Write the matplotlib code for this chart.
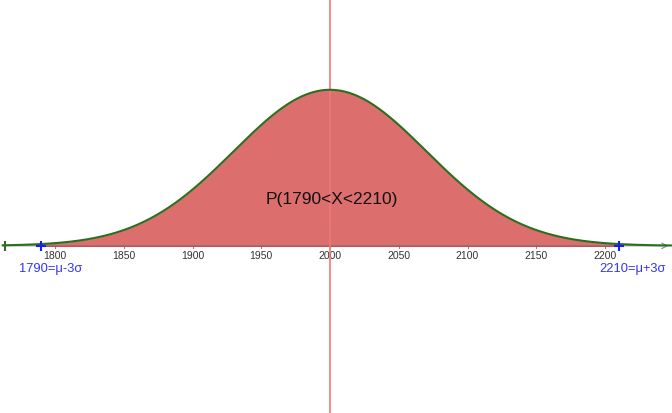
import numpy as np
import matplotlib.pyplot as plt

plt.rcParams['font.family'] = ['Liberation Sans', 'DejaVu Sans']

# distribution parameters
mu = 2000
sigma = 70
lower = 1790
upper = 2210
tick_values = [1800, 1850, 1900, 1950, 2000, 2050, 2100, 2150, 2200]
region_label = "P(1790<X<2210)"
lower_label = "1790=μ-3σ"
upper_label = "2210=μ+3σ"

def pdf(x):
    return np.exp(-0.5 * ((x - mu) / sigma) ** 2) / (sigma * np.sqrt(2 * np.pi))

peak = pdf(mu)
x_min, x_max = 1760, 2248.7

fig = plt.figure(figsize=(6.72, 4.14), dpi=100)
ax = fig.add_axes([0, 0, 1, 1])
ax.set_xlim(x_min, x_max)
ax.set_ylim(-1.072 * peak, 1.582 * peak)
ax.axis('off')

# x axis with arrow
ax.annotate('', xy=(x_max - 0.5, 0), xytext=(x_min, 0),
            arrowprops=dict(arrowstyle='->', color='#888888', lw=0.8))
tick_h = 0.012 * peak
for t in tick_values:
    ax.plot([t, t], [-tick_h, tick_h], color='#888888', lw=0.8)
    ax.text(t, -0.06 * peak, str(t), ha='center', va='center', fontsize=7.5, color='#333333')

# shaded region
xs = np.linspace(lower, upper, 500)
ax.fill_between(xs, 0, pdf(xs), color='#dc6e6e', lw=0)
ax.plot([lower, upper], [0, 0], color='#e8141e', lw=1.2)

# mean line
ax.axvline(mu, color='#f07878', lw=1.2, zorder=3)

# curve
xc = np.linspace(x_min + 2, x_max, 800)
ax.plot(xc, pdf(xc), color='#2c6e1e', lw=1.5, zorder=4)
ax.plot([x_min + 3.6], [0], marker='|', color='#2c6e1e', ms=7, mew=1.5, zorder=4)

# endpoints
ax.plot([lower, upper], [0, 0], ls='none', marker='+', color='#1a1aff', ms=7, mew=1.5, zorder=5)
ax.text(lower + 7, -0.14 * peak, lower_label, ha='center', va='center', fontsize=9.3, color='#3333ff')
ax.text(upper + 10, -0.14 * peak, upper_label, ha='center', va='center', fontsize=9.3, color='#3333ff')

ax.text(mu + 1, 0.30 * peak, region_label, ha='center', va='center', fontsize=12.5, color='#111111', zorder=6)

fig.savefig('out.png', dpi=100)
